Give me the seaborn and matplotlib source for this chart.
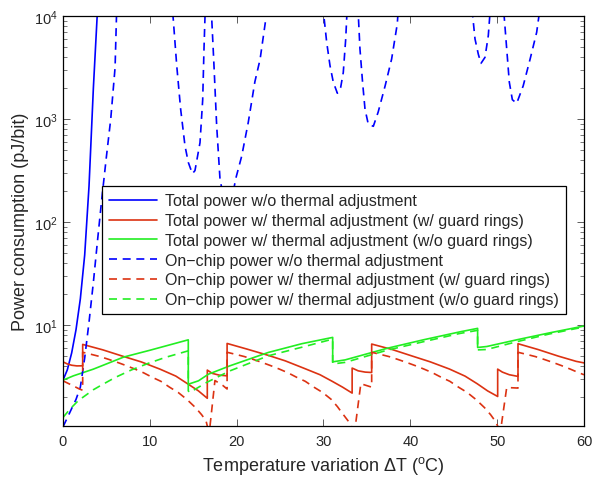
import numpy as np
import pandas as pd
import matplotlib
matplotlib.use("Agg")
import matplotlib.pyplot as plt
import seaborn as sns

# ---------------- data ----------------
# Total power w/o thermal adjustment
tot_nothermal_x = [0, 0.5, 1.0, 1.5, 2.0, 2.5, 3.0, 3.5, 3.95, 4.1]
tot_nothermal_y = [2.92, 3.68, 5.37, 9.02, 18.0, 47.9, 224, 1995, 10470, 15850]

# Total power w/ thermal adjustment (w/ guard rings)
tot_gr_x = [0, 0.5, 1.0, 1.6, 2.27, 2.27, 4.6, 6.95, 9.0, 11.17, 13.0, 14.43, 15.6, 16.62,
            16.62, 17.2, 18.0, 18.9, 18.9, 21.2, 23.6, 25.6, 27.8, 29.6, 31.0, 32.2, 33.3,
            33.3, 34.0, 34.8, 35.55, 35.55, 37.9, 40.25, 42.3, 44.5, 46.3, 47.7, 48.9, 50.06,
            50.06, 50.6, 51.4, 52.4, 52.4, 54.7, 57.05, 59.1, 60]
tot_gr_y = [4.4, 4.2, 4.08, 4.02, 4.03, 6.5, 5.75, 4.97, 4.4, 3.74, 3.2, 2.67, 2.3, 1.95,
            3.66, 3.4, 3.27, 3.22, 6.64, 5.85, 5.1, 4.5, 3.8, 3.3, 2.85, 2.5, 2.19,
            3.83, 3.6, 3.5, 3.47, 6.55, 5.8, 5.0, 4.4, 3.75, 3.2, 2.7, 2.3, 2.03,
            3.74, 3.5, 3.3, 3.18, 6.6, 5.8, 5.0, 4.45, 4.3]

# Total power w/ thermal adjustment (w/o guard rings)
tot_nogr_x = [0, 1.2, 3.5, 7.0, 10.0, 14.43, 14.43, 15.6, 16.75, 19.23, 23.65, 27.5, 31.06,
              31.06, 32.5, 37.3, 41.5, 45.7, 47.75, 47.75, 48.8, 52.25, 56.0, 60]
tot_nogr_y = [2.92, 3.22, 3.74, 4.9, 5.7, 7.2, 2.67, 2.88, 3.34, 4.03, 5.43, 6.6, 7.6,
              4.4, 4.6, 5.95, 7.2, 8.6, 9.3, 6.07, 6.2, 7.2, 8.4, 9.8]

# On-chip power w/o thermal adjustment
chip_nothermal_x = [0, 0.5, 1.0, 1.5, 2.0, 2.5, 3.0, 3.5, 4.0, 4.5, 5.0, 5.5, 6.0, 6.2,
                    12.55, 12.7, 13.1, 13.55, 14.05, 14.43, 14.9, 15.2, 15.78, 16.09, 16.24, 16.4,
                    17.05, 17.39, 17.7, 18.08, 18.5, 19.0, 19.5, 19.89, 20.58, 21.34, 22.1, 22.7, 23.6,
                    29.9, 30.37, 30.75, 31.13, 31.6, 31.98, 32.28, 32.56, 32.75,
                    33.95, 34.2, 34.5, 34.78, 35.16, 35.74, 36.3, 37.1, 37.85, 38.5, 38.65,
                    47.05, 47.45, 47.83, 48.14, 48.6, 48.98, 49.25,
                    50.7, 51.1, 51.4, 51.75, 52.25, 53.0, 53.8, 54.55, 55.0, 60]
chip_nothermal_y = [1.03, 1.26, 1.55, 1.9, 2.5, 4.8, 10.7, 26, 69, 178, 430, 1000, 3160, 13000,
                    13000, 9300, 3300, 1250, 550, 380, 295, 316, 590, 1540, 4800, 13000,
                    13000, 3300, 860, 263, 170, 140, 175, 263, 436, 930, 2300, 3800, 13000,
                    13000, 5550, 3300, 2280, 1780, 2030, 2830, 5980, 13000,
                    13000, 4800, 2280, 1250, 890, 850, 1170, 2100, 3830, 8400, 13000,
                    13000, 5980, 4260, 3470, 3970, 6440, 13000,
                    13000, 4800, 2280, 1540, 1420, 2100, 3830, 6940, 13000, 13000]

# On-chip power w/ thermal adjustment (w/ guard rings)
chip_gr_x = [0, 0.6, 1.2, 1.8, 2.27, 2.27, 3.27, 4.27, 5.27, 6.27, 7.27, 8.27, 9.27, 10.27,
             11.27, 12.27, 13.27, 14.27, 15.27, 15.97, 16.47, 16.62, 16.62, 17.5, 18.4, 18.9,
             18.9, 19.9, 20.9, 21.9, 22.9, 23.9, 24.9, 25.9, 26.9, 27.9, 28.9, 29.9, 30.9, 31.6,
             32.1, 33.1, 33.3, 33.3, 34.3, 35.55, 35.55, 36.55, 37.55, 38.55, 39.55, 40.55,
             41.55, 42.55, 43.55, 44.55, 45.55, 46.55, 47.55, 48.55, 49.25, 49.75, 50.06,
             50.06, 51.1, 52.4, 52.4, 53.4, 54.4, 55.4, 56.4, 57.4, 58.4, 59.4, 60]
chip_gr_y = [2.88, 2.72, 2.57, 2.42, 2.33, 5.45, 5.2, 4.95, 4.65, 4.35, 4.05, 3.75, 3.45,
             3.12, 2.85, 2.5, 2.22, 1.9, 1.58, 1.35, 1.18, 1.05, 0.6, 2.9, 2.6, 2.4,
             5.45, 5.2, 4.95, 4.65, 4.35, 4.05, 3.75, 3.45, 3.12, 2.85, 2.5, 2.22, 1.9, 1.62,
             1.42, 1.1, 1.0, 0.6, 2.7, 2.5, 5.45, 5.2, 4.95, 4.65, 4.35, 4.05,
             3.75, 3.45, 3.12, 2.85, 2.5, 2.22, 1.9, 1.58, 1.35, 1.18, 1.05,
             0.6, 2.48, 2.45, 5.45, 5.2, 4.95, 4.65, 4.35, 4.05, 3.75, 3.45, 3.3]

# On-chip power w/ thermal adjustment (w/o guard rings)
chip_nogr_x = [0, 0.8, 1.76, 2.53, 3.5, 4.26, 6.0, 7.9, 9.8, 11.75, 14.43, 14.43, 14.6, 16.55,
               19.23, 23.65, 27.5, 30.75, 31.06, 31.06, 32.5, 37.3, 41.5, 45.7, 47.75,
               47.75, 48.8, 52.25, 56.0, 60]
chip_nogr_y = [1.27, 1.53, 1.85, 2.06, 2.36, 2.57, 3.1, 3.68, 4.25, 4.85, 5.63, 2.3, 2.22, 2.78,
               3.6, 5.04, 6.1, 7.2, 7.25, 4.2, 4.35, 5.7, 6.9, 8.3, 8.9,
               5.75, 5.8, 6.9, 8.2, 9.6]

series_labels = [
    "Total power w/o thermal adjustment",
    "Total power w/ thermal adjustment (w/ guard rings)",
    "Total power w/ thermal adjustment (w/o guard rings)",
    "On\u2212chip power w/o thermal adjustment",
    "On\u2212chip power w/ thermal adjustment (w/ guard rings)",
    "On\u2212chip power w/ thermal adjustment (w/o guard rings)",
]
x_ticks = [0, 10, 20, 30, 40, 50, 60]

# ---------------- styling ----------------
sns.set_style("ticks")
plt.rcParams["font.family"] = ["Liberation Sans", "DejaVu Sans"]
plt.rcParams["mathtext.fontset"] = "custom"
plt.rcParams["mathtext.rm"] = "Liberation Sans"
plt.rcParams["mathtext.it"] = "Liberation Sans:italic"
plt.rcParams["mathtext.bf"] = "Liberation Sans:bold"

BLUE = "#0000ff"
RED = "#dc3212"
GREEN = "#22ee22"
DASH = (0, (4.8, 3.4))
LW = 1.2

fig = plt.figure(figsize=(5.93, 4.81), dpi=100)
ax = fig.add_axes([0.1062, 0.1123, 0.8786, 0.8524])

data = [
    (tot_nothermal_x, tot_nothermal_y, BLUE, "-"),
    (tot_gr_x, tot_gr_y, RED, "-"),
    (tot_nogr_x, tot_nogr_y, GREEN, "-"),
    (chip_nothermal_x, chip_nothermal_y, BLUE, DASH),
    (chip_gr_x, chip_gr_y, RED, DASH),
    (chip_nogr_x, chip_nogr_y, GREEN, DASH),
]

handles = []
for (xs, ys, col, ls), lab in zip(data, series_labels):
    df = pd.DataFrame({"dT": xs, "P": ys})
    sns.lineplot(data=df, x="dT", y="P", ax=ax, sort=False, estimator=None,
                 color=col, linestyle=ls, linewidth=LW, legend=False)
    handles.append(ax.lines[-1])

ax.set_yscale("log")
ax.set_xlim(0, 60)
ax.set_ylim(1.05, 1e4)
ax.set_xticks(x_ticks)
ax.set_xticklabels([str(t) for t in x_ticks])

ax.tick_params(which="both", direction="in", top=True, right=True,
               labelsize=10.5, color="#444444")
ax.tick_params(which="major", length=5, width=0.6, pad=6)
ax.tick_params(which="minor", length=3, width=0.5)
ax.tick_params(axis="y", which="major", pad=4)
for sp in ax.spines.values():
    sp.set_linewidth(0.9)
    sp.set_color("black")

ax.set_xlabel("Temperature variation \u0394T ($^{\\mathrm{o}}$C)", fontsize=13, labelpad=4)
ax.set_ylabel("Power consumption (pJ/bit)", fontsize=13, labelpad=3)

leg = ax.legend(handles, series_labels, loc="upper left",
                bbox_to_anchor=(0.0749, 0.585), borderaxespad=0.0,
                fontsize=11.5, handlelength=3.0, handletextpad=0.48,
                labelspacing=0.3, borderpad=0.45, fancybox=False,
                framealpha=1.0, edgecolor="black")
leg.get_frame().set_linewidth(0.9)

fig.savefig("out.png", dpi=100)
